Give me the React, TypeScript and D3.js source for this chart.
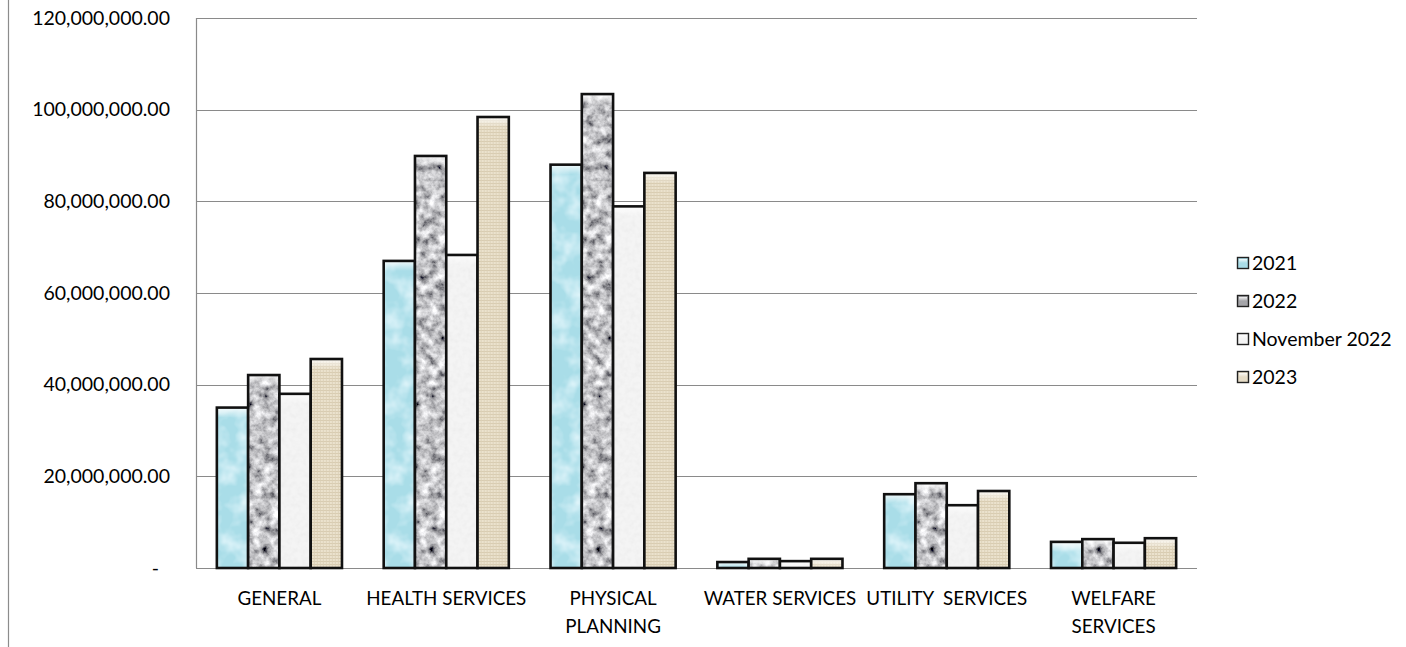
import React, { useEffect, useRef } from 'react';
import * as d3 from 'd3';

const categories = ['GENERAL', 'HEALTH SERVICES', 'PHYSICAL\nPLANNING', 'WATER SERVICES', 'UTILITY  SERVICES', 'WELFARE\nSERVICES'];
const seriesNames = ['2021', '2022', 'November 2022', '2023'];
const values2021 = [35000000, 67000000, 88000000, 1300000, 16100000, 5700000];
const values2022 = [42100000, 89900000, 103400000, 2000000, 18500000, 6300000];
const valuesNov2022 = [38000000, 68300000, 78900000, 1500000, 13700000, 5500000];
const values2023 = [45600000, 98400000, 86200000, 2000000, 16800000, 6500000];
const yTicks = [0, 20000000, 40000000, 60000000, 80000000, 100000000, 120000000];

const WIDTH = 1406;
const HEIGHT = 647;
const FONT = 'Lato, "Open Sans", sans-serif';

const App: React.FC = () => {
  const svgRef = useRef<SVGSVGElement>(null);

  useEffect(() => {
    const svg = d3.select(svgRef.current);
    svg.selectAll('*').remove();

    const allSeries = [values2021, values2022, valuesNov2022, values2023];
    const baseColors = ['#a9dde8', '#a4a4a8', '#f4f4f4', '#e6dcc6'];

    const margin = { left: 196, right: 209, top: 18, bottom: 79 };
    const plotW = WIDTH - margin.left - margin.right;
    const plotH = HEIGHT - margin.top - margin.bottom;

    const defs = svg.append('defs');

    // texture filters: noise clipped to the bar shape
    const makeNoise = (id: string, freq: number, octaves: number, matrix: string, seed: number) => {
      const f = defs.append('filter').attr('id', id).attr('x', 0).attr('y', 0).attr('width', 1).attr('height', 1);
      f.append('feTurbulence')
        .attr('type', 'fractalNoise')
        .attr('baseFrequency', freq)
        .attr('numOctaves', octaves)
        .attr('seed', seed)
        .attr('result', 'noise');
      f.append('feColorMatrix').attr('in', 'noise').attr('type', 'matrix').attr('values', matrix).attr('result', 'tint');
      f.append('feComposite').attr('in', 'tint').attr('in2', 'SourceGraphic').attr('operator', 'in');
    };
    // blue water
    makeNoise('tex0', 0.05, 3,
      '0 0 0 0 0.72  0 0 0 0 0.9  0 0 0 0 0.95  0 0 0 -2.2 1.35', 3);
    // granite
    makeNoise('tex1', 0.11, 4,
      '1.5 0 0 0 -0.2  1.5 0 0 0 -0.2  1.5 0 0 0 -0.18  0 0 0 0 1', 7);
    // white paper
    makeNoise('tex2', 0.2, 2,
      '0 0 0 0 0.84  0 0 0 0 0.84  0 0 0 0 0.84  0 0 0 -1.6 1.0', 11);

    // canvas pattern for 2023
    const canvas = defs.append('pattern').attr('id', 'canvas').attr('patternUnits', 'userSpaceOnUse')
      .attr('width', 6).attr('height', 6);
    canvas.append('rect').attr('width', 6).attr('height', 6).attr('fill', '#ebe2cd');
    canvas.append('path').attr('d', 'M0,0.5H6M0,3.5H6').attr('stroke', '#d4c7a9').attr('stroke-width', 0.8);
    canvas.append('path').attr('d', 'M1.5,0V6M4.5,0V6').attr('stroke', '#dacfb6').attr('stroke-width', 0.8);

    // top bevel highlight
    const bevel = defs.append('linearGradient').attr('id', 'bevel').attr('x1', 0).attr('x2', 0).attr('y1', 0).attr('y2', 1);
    bevel.append('stop').attr('offset', '0%').attr('stop-color', '#ffffff').attr('stop-opacity', 0.85);
    bevel.append('stop').attr('offset', '100%').attr('stop-color', '#ffffff').attr('stop-opacity', 0);

    const x0 = d3.scaleBand().domain(categories).range([0, plotW]).paddingInner(0.25).paddingOuter(0.125);
    const x1 = d3.scaleBand().domain(seriesNames).range([0, x0.bandwidth()]).padding(0);
    const y = d3.scaleLinear().domain([0, 120000000]).range([plotH, 0]);

    // outer chart border (left edge only visible)
    svg.append('line').attr('x1', 8.5).attr('x2', 8.5).attr('y1', 0).attr('y2', HEIGHT).attr('stroke', '#8c8c8c').attr('stroke-width', 1.2);

    const g = svg.append('g').attr('transform', `translate(${margin.left},${margin.top})`);

    // gridlines
    g.append('g')
      .selectAll('line')
      .data(yTicks)
      .enter()
      .append('line')
      .attr('x1', 0)
      .attr('x2', plotW)
      .attr('y1', d => Math.round(y(d)) + 0.5)
      .attr('y2', d => Math.round(y(d)) + 0.5)
      .attr('stroke', '#8a8a8a')
      .attr('stroke-width', 1.2);

    g.append('line').attr('x1', 0.5).attr('x2', 0.5).attr('y1', 0).attr('y2', plotH).attr('stroke', '#8a8a8a').attr('stroke-width', 1.2);

    // y tick labels
    const fmt = d3.format(',.2f');
    g.append('g')
      .selectAll('text')
      .data(yTicks)
      .enter()
      .append('text')
      .attr('x', d => (d === 0 ? -37 : -26))
      .attr('y', d => y(d))
      .attr('dy', '0.35em')
      .attr('text-anchor', 'end')
      .attr('font-family', FONT)
      .attr('font-size', 19.5)
      .attr('fill', '#000')
      .text(d => (d === 0 ? '-' : fmt(d)));

    // bars
    const groups = g.append('g')
      .selectAll('g')
      .data(categories)
      .enter()
      .append('g')
      .attr('transform', d => `translate(${x0(d)},0)`);

    seriesNames.forEach((s, si) => {
      const bx = x1(s)!;
      const bw = x1.bandwidth();
      const vals = allSeries[si];
      const filled = groups.append('rect')
        .attr('x', bx)
        .attr('y', (d, i) => y(vals[i]))
        .attr('width', bw)
        .attr('height', (d, i) => plotH - y(vals[i]));
      if (si === 3) {
        filled.attr('fill', 'url(#canvas)');
      } else {
        filled.attr('fill', baseColors[si]);
        groups.append('rect')
          .attr('x', bx)
          .attr('y', (d, i) => y(vals[i]))
          .attr('width', bw)
          .attr('height', (d, i) => plotH - y(vals[i]))
          .attr('fill', '#000')
          .attr('filter', `url(#tex${si})`);
      }
      // bevel at the top
      groups.append('rect')
        .attr('x', bx + 1)
        .attr('y', (d, i) => y(vals[i]))
        .attr('width', bw - 2)
        .attr('height', (d, i) => Math.min(10, plotH - y(vals[i])))
        .attr('fill', 'url(#bevel)');
      // outline
      groups.append('rect')
        .attr('x', bx)
        .attr('y', (d, i) => y(vals[i]))
        .attr('width', bw)
        .attr('height', (d, i) => plotH - y(vals[i]))
        .attr('fill', 'none')
        .attr('stroke', '#111')
        .attr('stroke-width', 2.6);
    });

    // category labels
    const labels = g.append('g')
      .selectAll('text')
      .data(categories)
      .enter()
      .append('text')
      .attr('x', d => x0(d)! + x0.bandwidth() / 2)
      .attr('y', plotH + 37)
      .attr('text-anchor', 'middle')
      .attr('font-family', FONT)
      .attr('font-size', 18.8)
      .attr('fill', '#000');
    labels.each(function (d) {
      const t = d3.select(this);
      d.split('\n').forEach((line, i) => {
        t.append('tspan')
          .attr('x', x0(d)! + x0.bandwidth() / 2)
          .attr('dy', i === 0 ? 0 : 28)
          .style('white-space', 'pre')
          .text(line);
      });
    });

    // legend
    const legend = svg.append('g').attr('transform', 'translate(1237,257)');
    seriesNames.forEach((s, si) => {
      const row = legend.append('g').attr('transform', `translate(0,${si * 38})`);
      const sq = row.append('rect').attr('x', 0.5).attr('y', 0.5).attr('width', 11).attr('height', 11)
        .attr('fill', baseColors[si]);
      row.append('rect').attr('x', 2).attr('y', 2).attr('width', 8).attr('height', 4).attr('fill', 'url(#bevel)');
      sq.attr('stroke', '#222').attr('stroke-width', 1.4);
      row.append('text')
        .attr('x', 15)
        .attr('y', 6)
        .attr('dy', '0.35em')
        .attr('font-family', FONT)
        .attr('font-size', 19.5)
        .attr('fill', '#000')
        .text(s);
    });
  }, []);

  return (
    <svg
      ref={svgRef}
      width={WIDTH}
      height={HEIGHT}
      style={{ position: 'absolute', left: 0, top: 0, background: '#fff' }}
    ></svg>
  );
};

export default App;
